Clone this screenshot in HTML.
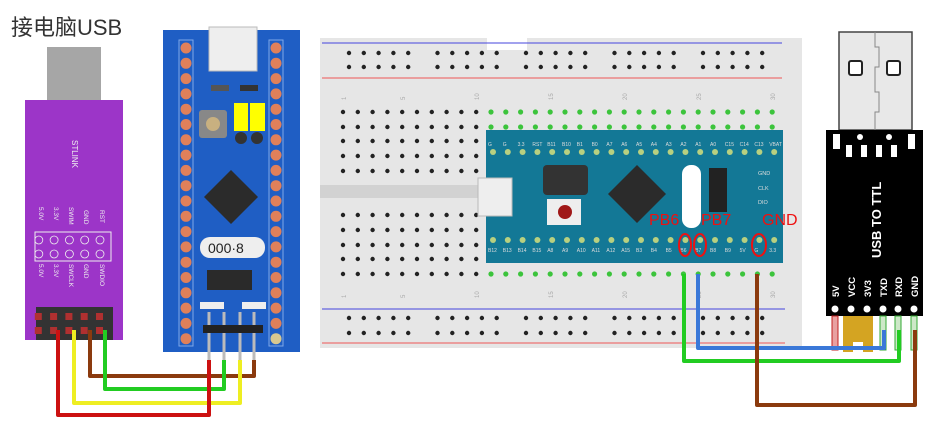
<!DOCTYPE html>
<html><head><meta charset="utf-8"><style>
html,body{margin:0;padding:0;background:#fff;width:945px;height:432px;overflow:hidden}
svg{display:block}
text{font-family:"Liberation Sans","Noto Sans CJK SC",sans-serif}
</style></head><body>
<svg id="s" width="945" height="432" viewBox="0 0 945 432" xmlns="http://www.w3.org/2000/svg">
<text x="11" y="35" font-size="22" fill="#333">接电脑USB</text>
<!-- STLINK -->
<rect x="47" y="47" width="54" height="54" fill="#a6a6a6"/>
<rect x="25" y="100" width="98" height="240" fill="#9c35c8"/>
<text transform="translate(72,140) rotate(90)" font-size="8" fill="#eee">STLINK</text>
<rect x="35" y="232" width="76" height="29" fill="none" stroke="#eee" stroke-width="1"/>
<g font-size="6.5" fill="#eee">
<text transform="translate(100,210) rotate(90)">RST</text>
<text transform="translate(84,210) rotate(90)">GND</text>
<text transform="translate(69,207) rotate(90)">SWIM</text>
<text transform="translate(54,207) rotate(90)">3.3V</text>
<text transform="translate(39,207) rotate(90)">5.0V</text>
<text transform="translate(100,264) rotate(90)">SWDIO</text>
<text transform="translate(84,264) rotate(90)">GND</text>
<text transform="translate(69,264) rotate(90)">SWCLK</text>
<text transform="translate(54,264) rotate(90)">3.3V</text>
<text transform="translate(39,264) rotate(90)">5.0V</text>
</g>
<g id="stc" fill="none" stroke="#eee" stroke-width="0.8"></g>
<rect x="36" y="307" width="77" height="33" fill="#333"/>
<g id="sth"></g>
<!-- blue pill -->
<rect x="163" y="30" width="137" height="322" fill="#1f5ec4"/>
<rect x="179" y="40" width="14" height="306" fill="none" stroke="#7fa8e8" stroke-width="1"/>
<rect x="269" y="40" width="14" height="306" fill="none" stroke="#7fa8e8" stroke-width="1"/>
<rect x="209" y="27" width="48" height="44" fill="#eee" stroke="#bbb"/>
<rect x="211" y="85" width="18" height="6" fill="#555"/><rect x="240" y="85" width="18" height="6" fill="#333"/>
<rect x="199" y="110" width="28" height="28" fill="#888" rx="3"/><circle cx="213" cy="124" r="7" fill="#c8b080"/>
<rect x="234" y="103" width="14" height="28" fill="#ff0"/><rect x="250" y="103" width="15" height="28" fill="#ff0"/>
<circle cx="241" cy="138" r="6" fill="#333"/><circle cx="257" cy="138" r="6" fill="#333"/>
<polygon points="231,170 258,197 231,224 204,197" fill="#2b2b2b"/>
<rect x="200" y="237" width="65" height="21" rx="10" fill="#eee"/>
<text x="208" y="253" font-size="14" font-family="Liberation Mono" fill="#222">000·8</text>
<rect x="207" y="270" width="45" height="20" fill="#2a2a2a"/>
<rect x="200" y="302" width="24" height="7" fill="#eee"/><rect x="242" y="302" width="24" height="7" fill="#eee"/>
<g id="bp"></g>
<g stroke="#bbb" stroke-width="3"><line x1="209" y1="312" x2="209" y2="362"/><line x1="224" y1="312" x2="224" y2="362"/><line x1="240" y1="312" x2="240" y2="362"/><line x1="254" y1="312" x2="254" y2="362"/></g>
<rect x="203" y="325" width="60" height="8" fill="#222"/>
<!-- breadboard -->
<rect x="320" y="38" width="482" height="310" fill="#e6e6e6"/>
<rect x="487" y="36" width="40" height="14" fill="#fff"/>
<line x1="322" y1="43" x2="782" y2="43" stroke="#4444dd"/>
<line x1="322" y1="78" x2="782" y2="78" stroke="#ee5555"/>
<line x1="322" y1="309" x2="785" y2="309" stroke="#4444dd"/>
<line x1="322" y1="343" x2="785" y2="343" stroke="#ee5555"/>
<rect x="320" y="185" width="170" height="13" fill="#d2d2d2"/>
<g font-size="6" fill="#aaa">
<text transform="translate(346,100) rotate(-90)">1</text><text transform="translate(405,100) rotate(-90)">5</text><text transform="translate(479,100) rotate(-90)">10</text><text transform="translate(553,100) rotate(-90)">15</text><text transform="translate(627,100) rotate(-90)">20</text><text transform="translate(701,100) rotate(-90)">25</text><text transform="translate(775,100) rotate(-90)">30</text>
<text transform="translate(346,298) rotate(-90)">1</text><text transform="translate(405,298) rotate(-90)">5</text><text transform="translate(479,298) rotate(-90)">10</text><text transform="translate(553,298) rotate(-90)">15</text><text transform="translate(627,298) rotate(-90)">20</text><text transform="translate(701,298) rotate(-90)">25</text><text transform="translate(775,298) rotate(-90)">30</text>
</g>
<g id="bb"></g>
<rect x="486" y="130" width="297" height="133" fill="#137896"/>
<rect x="478" y="178" width="34" height="38" fill="#eee" stroke="#bbb"/>
<rect x="543" y="165" width="45" height="30" rx="4" fill="#333"/>
<rect x="547" y="199" width="34" height="26" fill="#eee"/><circle cx="565" cy="212" r="7" fill="#a01818"/>
<polygon points="637,165 666,194 637,223 608,194" fill="#2b2b2b"/>
<rect x="682" y="165" width="19" height="63" rx="9" fill="#fff"/>
<rect x="709" y="168" width="18" height="44" fill="#222"/>
<g id="bl" font-size="5" fill="#ddd" font-family="Liberation Mono"></g>
<g font-size="5.5" fill="#ddd"><text x="758" y="175">GND</text><text x="758" y="190">CLK</text><text x="758" y="204">DIO</text></g>
<g font-size="16" fill="#ee1111"><text x="649" y="225">PB6</text><text x="701" y="225">PB7</text><text x="762" y="225">GND</text></g>
<g fill="none" stroke="#ee1111" stroke-width="2"><ellipse cx="685" cy="245" rx="6" ry="11"/><ellipse cx="700" cy="245" rx="6" ry="11"/><ellipse cx="759" cy="245" rx="7" ry="11"/></g>
<!-- USB TTL -->
<rect x="839" y="32" width="73" height="98" fill="#e8e8e8" stroke="#444" stroke-width="1.5"/>
<path d="M875 32v15h4v20h-4v25h4v20h-4v18" fill="none" stroke="#888"/>
<rect x="849" y="61" width="13" height="14" rx="2" fill="#fff" stroke="#222" stroke-width="2"/>
<rect x="887" y="61" width="13" height="14" rx="2" fill="#fff" stroke="#222" stroke-width="2"/>
<rect x="826" y="130" width="97" height="186" fill="#000"/>
<text transform="translate(881,258) rotate(-90)" font-size="13" font-weight="bold" fill="#fff">USB TO TTL</text>
<g font-size="9.5" font-weight="bold" fill="#fff">
<text transform="translate(839,297) rotate(-90)">5V</text><text transform="translate(855,297) rotate(-90)">VCC</text><text transform="translate(871,297) rotate(-90)">3V3</text><text transform="translate(887,297) rotate(-90)">TXD</text><text transform="translate(902,297) rotate(-90)">RXD</text><text transform="translate(918,297) rotate(-90)">GND</text></g>
<g fill="#fff"><rect x="833" y="134" width="7" height="15"/><rect x="846" y="145" width="6" height="12"/><rect x="861" y="145" width="6" height="12"/><rect x="876" y="145" width="6" height="12"/><rect x="891" y="145" width="6" height="12"/><rect x="908" y="134" width="7" height="15"/><circle cx="860" cy="137" r="3"/><circle cx="889" cy="137" r="3"/>
<circle cx="835" cy="309" r="3.5"/><circle cx="851" cy="309" r="3.5"/><circle cx="867" cy="309" r="3.5"/><circle cx="883" cy="309" r="3.5"/><circle cx="898" cy="309" r="3.5"/><circle cx="914" cy="309" r="3.5"/></g>
<rect x="832" y="316" width="6" height="34" fill="#e8a0a0" stroke="#c02020"/>
<path d="M843 316h30v36h-10v-10h-10v10h-10z" fill="#d4a422"/>
<g fill="#cde8c8" stroke="#3a3"><rect x="880" y="316" width="6" height="34"/><rect x="895" y="316" width="6" height="34"/><rect x="911" y="316" width="6" height="34"/></g>
<!-- wires -->
<g fill="none" stroke-width="4" stroke-linejoin="round">
<path d="M90 330V376H254V360" stroke="#8b3a0e"/>
<path d="M105 330V389H224V360" stroke="#22cc22"/>
<path d="M74 330V403H240V360" stroke="#eeee22"/>
<path d="M58 330V415H209V360" stroke="#cc1111"/>
<path d="M698 274V348H884V330" stroke="#3a78d8"/>
<path d="M684 274V361H899V330" stroke="#22cc22"/>
<path d="M757 274V405H915V330" stroke="#8b3a0e"/>
</g>
</svg>
<script>
var N="http://www.w3.org/2000/svg";
function el(p,t,a,tx){var e=document.createElementNS(N,t);for(var k in a)e.setAttribute(k,a[k]);if(tx)e.textContent=tx;document.getElementById(p).appendChild(e);return e;}
for(var i=0;i<5;i++){for(var r=0;r<2;r++){el('stc','circle',{cx:100-i*15.3,cy:240+r*14,r:4});el('sth','rect',{x:96-i*15.3,y:313+r*14,width:7,height:7,fill:'#b03030'});}}
for(var i=0;i<20;i++){el('bp','circle',{cx:186,cy:48+i*15.3,r:5.5,fill:'#e0805a'});el('bp','circle',{cx:276,cy:48+i*15.3,r:5.5,fill:i==19?'#d8c890':'#e0805a'});}
var rows=[112,127,141,156,171,215,230,245,259,274];
for(var c=0;c<30;c++){var x=343+c*14.8;for(var j=0;j<10;j++){var g=(c>=10&&(j==0||j==1||j==9));el('bb','circle',{cx:x,cy:rows[j],r:g?2.6:2.2,fill:g?'#3cc43c':'#222'});}}
for(var b=0;b<5;b++)for(var k=0;k<5;k++){var x=349+b*88.5+k*14.8;[53,67,318,333].forEach(function(y){el('bb','circle',{cx:x,cy:y,r:2.2,fill:'#222'});});}
var tl="G G 3.3 RST B11 B10 B1 B0 A7 A6 A5 A4 A3 A2 A1 A0 C15 C14 C13 VBAT".split(" ");
var bl="B12 B13 B14 B15 A8 A9 A10 A11 A12 A15 B3 B4 B5 B6 B7 B8 B9 5V G 3.3".split(" ");
for(var i=0;i<20;i++){var x=493+i*14.8;el('bl','text',{x:x-5,y:146},tl[i]);el('bl','text',{x:x-5,y:252},bl[i]);el('bl','circle',{cx:x,cy:152,r:3,fill:'#b8d080'});el('bl','circle',{cx:x,cy:240,r:3,fill:'#b8d080'});}
</script>
</body></html>
